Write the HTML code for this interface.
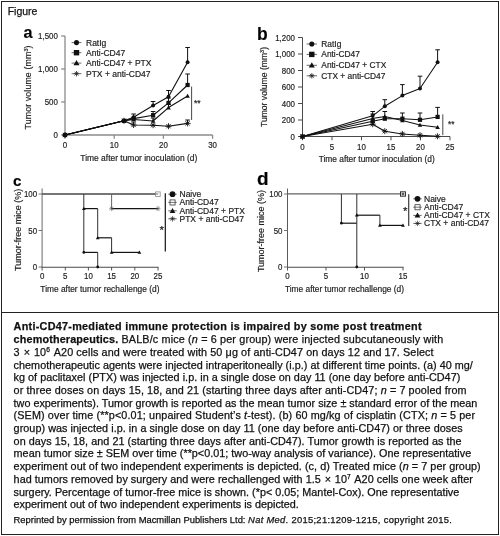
<!DOCTYPE html>
<html><head><meta charset="utf-8"><title>Figure</title>
<style>
html,body{margin:0;padding:0;background:#fff}
body{width:500px;height:536px;position:relative;overflow:hidden;font-family:"Liberation Sans",sans-serif;color:#111}
#frame{position:absolute;left:1px;top:1px;width:498px;height:534px;border:1px solid #222;box-sizing:border-box}
#sep{position:absolute;left:1px;top:312px;width:498px;height:1px;background:#222}
#ttl{position:absolute;left:7.7px;top:5.4px;font-size:10.5px;-webkit-text-stroke:0.25px #111;line-height:13px;color:#111}
svg{position:absolute;left:0;top:0}
svg text{font-family:"Liberation Sans",sans-serif;stroke:#222;stroke-width:0.18px}
.ln{-webkit-text-stroke:0.25px #111;position:absolute;left:13.6px;white-space:nowrap;line-height:1;color:#111}
.ln .x{margin:0 0.8px}
.ln sup{margin-right:1.2px;font-size:0.62em;vertical-align:baseline;position:relative;top:-0.5em;line-height:0}
</style></head><body>
<div id="frame"></div><div id="sep"></div>
<div id="ttl">Figure</div>
<svg width="500" height="312" viewBox="0 0 500 312">
<path d="M65.0 36.0V135.0H212.6" stroke="#8c8c8c" stroke-width="1.3" fill="none"/>
<path d="M61.2 135.0H65.0" stroke="#8c8c8c" stroke-width="1.3"/>
<text transform="translate(57.9 138.1) scale(0.92 1)" font-size="8.6" text-anchor="end" fill="#222">0</text>
<path d="M61.2 102.0H65.0" stroke="#8c8c8c" stroke-width="1.3"/>
<text transform="translate(57.9 105.1) scale(0.92 1)" font-size="8.6" text-anchor="end" fill="#222">500</text>
<path d="M61.2 69.0H65.0" stroke="#8c8c8c" stroke-width="1.3"/>
<text transform="translate(57.9 72.1) scale(0.92 1)" font-size="8.6" text-anchor="end" fill="#222">1,000</text>
<path d="M61.2 36.0H65.0" stroke="#8c8c8c" stroke-width="1.3"/>
<text transform="translate(57.9 39.1) scale(0.92 1)" font-size="8.6" text-anchor="end" fill="#222">1,500</text>
<path d="M65.0 135.0v3.8" stroke="#8c8c8c" stroke-width="1.3"/>
<text transform="translate(65.0 148.0) scale(0.92 1)" font-size="8.6" text-anchor="middle" fill="#222">0</text>
<path d="M114.2 135.0v3.8" stroke="#8c8c8c" stroke-width="1.3"/>
<text transform="translate(114.2 148.0) scale(0.92 1)" font-size="8.6" text-anchor="middle" fill="#222">10</text>
<path d="M163.4 135.0v3.8" stroke="#8c8c8c" stroke-width="1.3"/>
<text transform="translate(163.4 148.0) scale(0.92 1)" font-size="8.6" text-anchor="middle" fill="#222">20</text>
<path d="M212.6 135.0v3.8" stroke="#8c8c8c" stroke-width="1.3"/>
<text transform="translate(212.6 148.0) scale(0.92 1)" font-size="8.6" text-anchor="middle" fill="#222">30</text>
<text x="138.8" y="160.5" font-size="8.45" text-anchor="middle" font-weight="normal" fill="#222" >Time after tumor inoculation (d)</text>
<text transform="translate(31.4 87.4) rotate(-90)" font-size="8.8" letter-spacing="0.12" text-anchor="middle" fill="#222">Tumor volume (mm<tspan font-size="5.5" dy="-3">3</tspan><tspan dy="3">)</tspan></text>
<path d="M133.6 117.3V114.0M131.3 114.0H135.9" stroke="#111" stroke-width="1.0" fill="none"/>
<path d="M153.1 105.4V101.5M150.8 101.5H155.4" stroke="#111" stroke-width="1.0" fill="none"/>
<path d="M168.5 96.7V90.5M166.2 90.5H170.8" stroke="#111" stroke-width="1.0" fill="none"/>
<path d="M187.6 62.2V47.5M185.3 47.5H189.9" stroke="#111" stroke-width="1.0" fill="none"/>
<path d="M153.1 115.2V111.5M150.8 111.5H155.4" stroke="#111" stroke-width="1.0" fill="none"/>
<path d="M168.5 102.9V98.0M166.2 98.0H170.8" stroke="#111" stroke-width="1.0" fill="none"/>
<path d="M187.6 85.0V74.0M185.3 74.0H189.9" stroke="#111" stroke-width="1.0" fill="none"/>
<path d="M133.6 125.0V122.0M131.3 122.0H135.9" stroke="#111" stroke-width="1.0" fill="none"/>
<path d="M153.1 121.0V118.0M150.8 118.0H155.4" stroke="#111" stroke-width="1.0" fill="none"/>
<path d="M168.5 107.6V104.5M166.2 104.5H170.8" stroke="#111" stroke-width="1.0" fill="none"/>
<path d="M187.6 123.4V120.0M185.3 120.0H189.9" stroke="#111" stroke-width="1.0" fill="none"/>
<path d="M65.0 135.0L124.0 120.8L133.6 117.3L153.1 105.4L168.5 96.7L187.6 62.2" fill="none" stroke="#111" stroke-width="1.12" stroke-linejoin="round"/>
<circle cx="65.0" cy="135.0" r="1.99" fill="#111"/>
<circle cx="124.0" cy="120.8" r="1.99" fill="#111"/>
<circle cx="133.6" cy="117.3" r="1.99" fill="#111"/>
<circle cx="153.1" cy="105.4" r="1.99" fill="#111"/>
<circle cx="168.5" cy="96.7" r="1.99" fill="#111"/>
<circle cx="187.6" cy="62.2" r="1.99" fill="#111"/>
<path d="M65.0 135.0L124.0 120.8L133.6 118.6L153.1 115.2L168.5 102.9L187.6 85.0" fill="none" stroke="#111" stroke-width="1.12" stroke-linejoin="round"/>
<rect x="62.9" y="132.9" width="4.2" height="4.2" fill="#111"/>
<rect x="121.9" y="118.7" width="4.2" height="4.2" fill="#111"/>
<rect x="131.5" y="116.5" width="4.2" height="4.2" fill="#111"/>
<rect x="151.0" y="113.1" width="4.2" height="4.2" fill="#111"/>
<rect x="166.4" y="100.8" width="4.2" height="4.2" fill="#111"/>
<rect x="185.5" y="82.9" width="4.2" height="4.2" fill="#111"/>
<path d="M65.0 135.0L124.0 120.8L133.6 119.5L153.1 121.0L168.5 107.6L187.6 96.0" fill="none" stroke="#111" stroke-width="1.12" stroke-linejoin="round"/>
<path d="M65.0 132.7L67.3 136.8H62.7Z" fill="#111"/>
<path d="M124.0 118.5L126.3 122.6H121.7Z" fill="#111"/>
<path d="M133.6 117.2L135.9 121.3H131.3Z" fill="#111"/>
<path d="M153.1 118.7L155.4 122.8H150.8Z" fill="#111"/>
<path d="M168.5 105.3L170.8 109.4H166.2Z" fill="#111"/>
<path d="M187.6 93.7L189.9 97.8H185.3Z" fill="#111"/>
<path d="M65.0 135.0L124.0 120.8L133.6 125.0L153.1 125.2L168.5 126.2L187.6 123.4" fill="none" stroke="#111" stroke-width="1.12" stroke-linejoin="round"/>
<path d="M62.0 135.0H68.0M65.0 132.0V138.0M62.9 132.9L67.1 137.1M62.9 137.1L67.1 132.9" stroke="#111" stroke-width="0.9" fill="none"/>
<path d="M121.0 120.8H127.0M124.0 117.8V123.8M121.9 118.7L126.1 122.9M121.9 122.9L126.1 118.7" stroke="#111" stroke-width="0.9" fill="none"/>
<path d="M130.6 125.0H136.6M133.6 122.0V128.0M131.5 122.9L135.7 127.1M131.5 127.1L135.7 122.9" stroke="#111" stroke-width="0.9" fill="none"/>
<path d="M150.1 125.2H156.1M153.1 122.2V128.2M151.0 123.1L155.2 127.3M151.0 127.3L155.2 123.1" stroke="#111" stroke-width="0.9" fill="none"/>
<path d="M165.5 126.2H171.5M168.5 123.2V129.2M166.4 124.1L170.6 128.3M166.4 128.3L170.6 124.1" stroke="#111" stroke-width="0.9" fill="none"/>
<path d="M184.6 123.4H190.6M187.6 120.4V126.4M185.5 121.3L189.7 125.5M185.5 125.5L189.7 121.3" stroke="#111" stroke-width="0.9" fill="none"/>
<path d="M191.6 86.5V120" stroke="#333" stroke-width="0.9"/>
<text x="194.0" y="105.5" font-size="8.6" text-anchor="start" font-weight="normal" fill="#222" >**</text>
<path d="M71.6 42.6H81.4" stroke="#444" stroke-width="0.8"/>
<circle cx="76.5" cy="42.6" r="2.55" fill="#111"/>
<text x="86.0" y="45.6" font-size="8.5" text-anchor="start" font-weight="normal" fill="#222" >RatIg</text>
<path d="M71.6 52.7H81.4" stroke="#444" stroke-width="0.8"/>
<rect x="73.8" y="50.0" width="5.4" height="5.4" fill="#111"/>
<text x="86.0" y="55.7" font-size="8.5" text-anchor="start" font-weight="normal" fill="#222" >Anti-CD47</text>
<path d="M71.6 63.1H81.4" stroke="#444" stroke-width="0.8"/>
<path d="M76.5 60.1L79.5 65.3H73.5Z" fill="#111"/>
<text x="86.0" y="66.1" font-size="8.5" text-anchor="start" font-weight="normal" fill="#222" >Anti-CD47 + PTX</text>
<path d="M71.6 73.7H81.4" stroke="#444" stroke-width="0.8"/>
<path d="M73.8 73.7H79.2M76.5 71.0V76.4M74.6 71.8L78.4 75.6M74.6 75.6L78.4 71.8" stroke="#222" stroke-width="0.8" fill="none"/>
<text x="86.0" y="76.7" font-size="8.5" text-anchor="start" font-weight="normal" fill="#222" >PTX + anti-CD47</text>
<text x="23.5" y="38.3" font-size="16.2" text-anchor="start" font-weight="bold" fill="#000" >a</text>
<path d="M302.5 37.5V136.5H450.0" stroke="#4a4a4a" stroke-width="1" fill="none"/>
<path d="M298.0 136.5H302.5" stroke="#4a4a4a" stroke-width="1"/>
<text transform="translate(295.0 139.8) scale(0.92 1)" font-size="8.6" text-anchor="end" fill="#222">0</text>
<path d="M298.0 120.0H302.5" stroke="#4a4a4a" stroke-width="1"/>
<text transform="translate(295.0 123.3) scale(0.92 1)" font-size="8.6" text-anchor="end" fill="#222">200</text>
<path d="M298.0 103.5H302.5" stroke="#4a4a4a" stroke-width="1"/>
<text transform="translate(295.0 106.8) scale(0.92 1)" font-size="8.6" text-anchor="end" fill="#222">400</text>
<path d="M298.0 87.0H302.5" stroke="#4a4a4a" stroke-width="1"/>
<text transform="translate(295.0 90.3) scale(0.92 1)" font-size="8.6" text-anchor="end" fill="#222">600</text>
<path d="M298.0 70.5H302.5" stroke="#4a4a4a" stroke-width="1"/>
<text transform="translate(295.0 73.8) scale(0.92 1)" font-size="8.6" text-anchor="end" fill="#222">800</text>
<path d="M298.0 54.0H302.5" stroke="#4a4a4a" stroke-width="1"/>
<text transform="translate(295.0 57.3) scale(0.92 1)" font-size="8.6" text-anchor="end" fill="#222">1,000</text>
<path d="M298.0 37.5H302.5" stroke="#4a4a4a" stroke-width="1"/>
<text transform="translate(295.0 40.8) scale(0.92 1)" font-size="8.6" text-anchor="end" fill="#222">1,200</text>
<path d="M302.5 136.5v3.8" stroke="#4a4a4a" stroke-width="1"/>
<text transform="translate(302.5 150.3) scale(0.92 1)" font-size="8.6" text-anchor="middle" fill="#222">0</text>
<path d="M332.0 136.5v3.8" stroke="#4a4a4a" stroke-width="1"/>
<text transform="translate(332.0 150.3) scale(0.92 1)" font-size="8.6" text-anchor="middle" fill="#222">5</text>
<path d="M361.5 136.5v3.8" stroke="#4a4a4a" stroke-width="1"/>
<text transform="translate(361.5 150.3) scale(0.92 1)" font-size="8.6" text-anchor="middle" fill="#222">10</text>
<path d="M391.0 136.5v3.8" stroke="#4a4a4a" stroke-width="1"/>
<text transform="translate(391.0 150.3) scale(0.92 1)" font-size="8.6" text-anchor="middle" fill="#222">15</text>
<path d="M420.5 136.5v3.8" stroke="#4a4a4a" stroke-width="1"/>
<text transform="translate(420.5 150.3) scale(0.92 1)" font-size="8.6" text-anchor="middle" fill="#222">20</text>
<path d="M450.0 136.5v3.8" stroke="#4a4a4a" stroke-width="1"/>
<text transform="translate(450.0 150.3) scale(0.92 1)" font-size="8.6" text-anchor="middle" fill="#222">25</text>
<text x="376.7" y="161.6" font-size="8.4" text-anchor="middle" font-weight="normal" fill="#222" >Time after tumor inoculation (d)</text>
<text transform="translate(267 87) rotate(-90)" font-size="8.6" text-anchor="middle" fill="#222">Tumor volume (mm<tspan font-size="5.5" dy="-3">3</tspan><tspan dy="3">)</tspan></text>
<path d="M372.7 115.8V111.5M370.4 111.5H375.0" stroke="#111" stroke-width="1.0" fill="none"/>
<path d="M384.8 106.3V99.7M382.5 99.7H387.1" stroke="#111" stroke-width="1.0" fill="none"/>
<path d="M402.4 95.6V84.6M400.1 84.6H404.7" stroke="#111" stroke-width="1.0" fill="none"/>
<path d="M420.0 88.5V76.2M417.7 76.2H422.3" stroke="#111" stroke-width="1.0" fill="none"/>
<path d="M437.6 62.3V49.8M435.3 49.8H439.9" stroke="#111" stroke-width="1.0" fill="none"/>
<path d="M384.8 116.5V111.5M382.5 111.5H387.1" stroke="#111" stroke-width="1.0" fill="none"/>
<path d="M402.4 118.7V113.0M400.1 113.0H404.7" stroke="#111" stroke-width="1.0" fill="none"/>
<path d="M420.0 119.8V113.0M417.7 113.0H422.3" stroke="#111" stroke-width="1.0" fill="none"/>
<path d="M437.6 116.9V107.4M435.3 107.4H439.9" stroke="#111" stroke-width="1.0" fill="none"/>
<path d="M372.7 118.4V114.0M370.4 114.0H375.0" stroke="#111" stroke-width="1.0" fill="none"/>
<path d="M302.5 136.5L372.7 115.8L384.8 106.3L402.4 95.6L420.0 88.5L437.6 62.3" fill="none" stroke="#111" stroke-width="1.05" stroke-linejoin="round"/>
<circle cx="302.5" cy="136.5" r="1.99" fill="#111"/>
<circle cx="372.7" cy="115.8" r="1.99" fill="#111"/>
<circle cx="384.8" cy="106.3" r="1.99" fill="#111"/>
<circle cx="402.4" cy="95.6" r="1.99" fill="#111"/>
<circle cx="420.0" cy="88.5" r="1.99" fill="#111"/>
<circle cx="437.6" cy="62.3" r="1.99" fill="#111"/>
<path d="M302.5 136.5L372.7 121.2L384.8 118.7L402.4 118.7L420.0 119.8L437.6 116.9" fill="none" stroke="#111" stroke-width="1.05" stroke-linejoin="round"/>
<rect x="300.4" y="134.4" width="4.2" height="4.2" fill="#111"/>
<rect x="370.6" y="119.1" width="4.2" height="4.2" fill="#111"/>
<rect x="382.7" y="116.6" width="4.2" height="4.2" fill="#111"/>
<rect x="400.3" y="116.6" width="4.2" height="4.2" fill="#111"/>
<rect x="417.9" y="117.7" width="4.2" height="4.2" fill="#111"/>
<rect x="435.5" y="114.8" width="4.2" height="4.2" fill="#111"/>
<path d="M302.5 136.5L372.7 118.4L384.8 116.5L402.4 120.4L420.0 125.0L437.6 127.2" fill="none" stroke="#111" stroke-width="1.05" stroke-linejoin="round"/>
<path d="M302.5 134.2L304.8 138.3H300.2Z" fill="#111"/>
<path d="M372.7 116.1L375.0 120.2H370.4Z" fill="#111"/>
<path d="M384.8 114.2L387.1 118.3H382.5Z" fill="#111"/>
<path d="M402.4 118.1L404.7 122.2H400.1Z" fill="#111"/>
<path d="M420.0 122.7L422.3 126.8H417.7Z" fill="#111"/>
<path d="M437.6 124.9L439.9 129.0H435.3Z" fill="#111"/>
<path d="M302.5 136.5L372.7 124.2L384.8 131.2L402.4 133.9L420.0 135.2L437.6 136.3" fill="none" stroke="#111" stroke-width="1.05" stroke-linejoin="round"/>
<path d="M299.5 136.5H305.5M302.5 133.5V139.5M300.4 134.4L304.6 138.6M300.4 138.6L304.6 134.4" stroke="#111" stroke-width="0.9" fill="none"/>
<path d="M369.7 124.2H375.7M372.7 121.2V127.2M370.6 122.1L374.8 126.3M370.6 126.3L374.8 122.1" stroke="#111" stroke-width="0.9" fill="none"/>
<path d="M381.8 131.2H387.8M384.8 128.2V134.2M382.7 129.1L386.9 133.3M382.7 133.3L386.9 129.1" stroke="#111" stroke-width="0.9" fill="none"/>
<path d="M399.4 133.9H405.4M402.4 130.9V136.9M400.3 131.8L404.5 136.0M400.3 136.0L404.5 131.8" stroke="#111" stroke-width="0.9" fill="none"/>
<path d="M417.0 135.2H423.0M420.0 132.2V138.2M417.9 133.1L422.1 137.3M417.9 137.3L422.1 133.1" stroke="#111" stroke-width="0.9" fill="none"/>
<path d="M434.6 136.3H440.6M437.6 133.3V139.3M435.5 134.2L439.7 138.4M435.5 138.4L439.7 134.2" stroke="#111" stroke-width="0.9" fill="none"/>
<path d="M442.8 114.3V135.2" stroke="#333" stroke-width="0.9"/>
<text x="448.0" y="127.3" font-size="8.3" text-anchor="start" font-weight="normal" fill="#222" >**</text>
<path d="M306.6 44H317.0" stroke="#444" stroke-width="0.8"/>
<circle cx="311.8" cy="44.0" r="2.55" fill="#111"/>
<text x="321.3" y="47.0" font-size="8.4" text-anchor="start" font-weight="normal" fill="#222" >RatIg</text>
<path d="M306.6 54.4H317.0" stroke="#444" stroke-width="0.8"/>
<rect x="309.1" y="51.7" width="5.4" height="5.4" fill="#111"/>
<text x="321.3" y="57.4" font-size="8.4" text-anchor="start" font-weight="normal" fill="#222" >Anti-CD47</text>
<path d="M306.6 65.3H317.0" stroke="#444" stroke-width="0.8"/>
<path d="M311.8 62.3L314.8 67.5H308.8Z" fill="#111"/>
<text x="321.3" y="68.3" font-size="8.4" text-anchor="start" font-weight="normal" fill="#222" >Anti-CD47 + CTX</text>
<path d="M306.6 75.8H317.0" stroke="#444" stroke-width="0.8"/>
<path d="M309.1 75.8H314.5M311.8 73.1V78.5M309.9 73.9L313.7 77.7M309.9 77.7L313.7 73.9" stroke="#222" stroke-width="0.8" fill="none"/>
<text x="321.3" y="78.8" font-size="8.4" text-anchor="start" font-weight="normal" fill="#222" >CTX + anti-CD47</text>
<text x="257.0" y="39.6" font-size="17.5" text-anchor="start" font-weight="bold" fill="#000" >b</text>
<path d="M42.1 188.6V267.0" stroke="#7d7d7d" stroke-width="1.15" fill="none"/>
<path d="M41.6 267.25H158.5" stroke="#4a4a4a" stroke-width="1.1" fill="none"/>
<path d="M38.6 267.0H42.1" stroke="#737373" stroke-width="1"/>
<text transform="translate(37.1 270.1) scale(0.92 1)" font-size="8.6" text-anchor="end" fill="#222">0</text>
<path d="M38.6 230.5H42.1" stroke="#737373" stroke-width="1"/>
<text transform="translate(37.1 233.6) scale(0.92 1)" font-size="8.6" text-anchor="end" fill="#222">50</text>
<path d="M38.6 194.0H42.1" stroke="#737373" stroke-width="1"/>
<text transform="translate(37.1 197.1) scale(0.92 1)" font-size="8.6" text-anchor="end" fill="#222">100</text>
<path d="M42.1 267.0v3.5" stroke="#555" stroke-width="1"/>
<text transform="translate(42.1 279.0) scale(0.92 1)" font-size="8.6" text-anchor="middle" fill="#222">0</text>
<path d="M65.3 267.0v3.5" stroke="#555" stroke-width="1"/>
<text transform="translate(65.3 279.0) scale(0.92 1)" font-size="8.6" text-anchor="middle" fill="#222">5</text>
<path d="M88.4 267.0v3.5" stroke="#555" stroke-width="1"/>
<text transform="translate(88.4 279.0) scale(0.92 1)" font-size="8.6" text-anchor="middle" fill="#222">10</text>
<path d="M111.6 267.0v3.5" stroke="#555" stroke-width="1"/>
<text transform="translate(111.6 279.0) scale(0.92 1)" font-size="8.6" text-anchor="middle" fill="#222">15</text>
<path d="M134.8 267.0v3.5" stroke="#555" stroke-width="1"/>
<text transform="translate(134.8 279.0) scale(0.92 1)" font-size="8.6" text-anchor="middle" fill="#222">20</text>
<path d="M158.0 267.0v3.5" stroke="#555" stroke-width="1"/>
<text transform="translate(158.0 279.0) scale(0.92 1)" font-size="8.6" text-anchor="middle" fill="#222">25</text>
<text x="99.9" y="292.0" font-size="8.37" text-anchor="middle" font-weight="normal" fill="#222" >Time after tumor rechallenge (d)</text>
<text transform="translate(21.2 229.8) rotate(-90)" font-size="9.0" text-anchor="middle" fill="#222">Tumor-free mice (%)</text>
<path d="M42.1 194.0L158.0 194.0" fill="none" stroke="#484848" stroke-width="1.3" stroke-linejoin="round"/>
<path d="M83.8 194.0V252.4" stroke="#303030" stroke-width="1.0" fill="none"/><path d="M83.4 252.4H97.7" stroke="#141414" stroke-width="1.2" fill="none"/><path d="M97.7 252.4V267.0" stroke="#303030" stroke-width="1.0" fill="none"/>
<path d="M83.4 208.6H97.7" stroke="#141414" stroke-width="1.2" fill="none"/><path d="M97.7 208.6V237.8" stroke="#303030" stroke-width="1.0" fill="none"/><path d="M97.3 237.8H111.6" stroke="#141414" stroke-width="1.2" fill="none"/><path d="M111.6 237.8V252.4" stroke="#303030" stroke-width="1.0" fill="none"/><path d="M111.2 252.4H139.4" stroke="#141414" stroke-width="1.2" fill="none"/>
<path d="M111.6 194.0L111.6 208.6" fill="none" stroke="#666" stroke-width="1.0" stroke-linejoin="round"/>
<path d="M111.2 208.6H158.0" stroke="#141414" stroke-width="1.2" fill="none"/>
<circle cx="83.8" cy="252.4" r="1.40" fill="#111"/>
<circle cx="97.7" cy="267.0" r="1.40" fill="#111"/>
<path d="M83.8 206.7L85.7 210.0H82.0Z" fill="#111"/>
<path d="M97.7 235.9L99.6 239.2H95.9Z" fill="#111"/>
<path d="M111.6 250.5L113.5 253.8H109.8Z" fill="#111"/>
<path d="M139.4 250.5L141.3 253.8H137.6Z" fill="#111"/>
<path d="M109.1 208.6H114.2M111.6 206.0V211.2M109.8 206.8L113.4 210.4M109.8 210.4L113.4 206.8" stroke="#555" stroke-width="0.55" fill="none"/>
<path d="M155.4 208.6H160.5M158.0 206.0V211.2M156.2 206.8L159.8 210.4M156.2 210.4L159.8 206.8" stroke="#555" stroke-width="0.55" fill="none"/>
<rect x="155.6" y="191.9" width="4.6" height="4.6" fill="#fff" stroke="#8a8a8a" stroke-width="0.8"/><path d="M155.6 194H158.2" stroke="#666" stroke-width="1"/>
<path d="M165.3 193.2V251.5" stroke="#111" stroke-width="1.2"/>
<text x="159.6" y="234.4" font-size="11.5" text-anchor="start" font-weight="normal" fill="#111" >*</text>
<path d="M168.3 194.2H176.7" stroke="#444" stroke-width="0.8"/>
<circle cx="172.5" cy="194.2" r="2.86" fill="#111"/>
<text x="179.5" y="197.2" font-size="8.5" text-anchor="start" font-weight="normal" fill="#222" >Naive</text>
<path d="M168.3 202.4H176.7" stroke="#444" stroke-width="0.8"/>
<rect x="170.0" y="199.9" width="5.1" height="5.1" fill="#fff" stroke="#3a3a3a" stroke-width="0.8"/><path d="M170.0 202.4H175.0" stroke="#3a3a3a" stroke-width="0.68"/>
<text x="179.5" y="205.4" font-size="8.5" text-anchor="start" font-weight="normal" fill="#222" >Anti-CD47</text>
<path d="M168.3 210.8H176.7" stroke="#444" stroke-width="0.8"/>
<path d="M172.5 208.0L175.3 212.9H169.7Z" fill="#111"/>
<text x="179.5" y="213.8" font-size="8.5" text-anchor="start" font-weight="normal" fill="#222" >Anti-CD47 + PTX</text>
<path d="M168.3 218.8H176.7" stroke="#444" stroke-width="0.8"/>
<path d="M169.8 218.8H175.2M172.5 216.1V221.5M170.6 216.9L174.4 220.7M170.6 220.7L174.4 216.9" stroke="#111" stroke-width="0.6" fill="none"/>
<text x="179.5" y="221.8" font-size="8.5" text-anchor="start" font-weight="normal" fill="#222" >PTX + anti-CD47</text>
<text x="13.0" y="185.8" font-size="15.2" text-anchor="start" font-weight="bold" fill="#000" >c</text>
<path d="M287.5 188.6V267.0" stroke="#5a5a5a" stroke-width="1.0" fill="none"/>
<path d="M287.0 267.3H403.5" stroke="#4a4a4a" stroke-width="1.1" fill="none"/>
<path d="M284.0 267.0H287.5" stroke="#737373" stroke-width="1"/>
<text transform="translate(282.5 270.1) scale(0.92 1)" font-size="8.6" text-anchor="end" fill="#222">0</text>
<path d="M284.0 230.5H287.5" stroke="#737373" stroke-width="1"/>
<text transform="translate(282.5 233.6) scale(0.92 1)" font-size="8.6" text-anchor="end" fill="#222">50</text>
<path d="M284.0 194.0H287.5" stroke="#737373" stroke-width="1"/>
<text transform="translate(282.5 197.1) scale(0.92 1)" font-size="8.6" text-anchor="end" fill="#222">100</text>
<path d="M287.5 267.0v3.5" stroke="#555" stroke-width="1"/>
<text transform="translate(287.5 279.0) scale(0.92 1)" font-size="8.6" text-anchor="middle" fill="#222">0</text>
<path d="M326.0 267.0v3.5" stroke="#555" stroke-width="1"/>
<text transform="translate(326.0 279.0) scale(0.92 1)" font-size="8.6" text-anchor="middle" fill="#222">5</text>
<path d="M364.5 267.0v3.5" stroke="#555" stroke-width="1"/>
<text transform="translate(364.5 279.0) scale(0.92 1)" font-size="8.6" text-anchor="middle" fill="#222">10</text>
<path d="M403.0 267.0v3.5" stroke="#555" stroke-width="1"/>
<text transform="translate(403.0 279.0) scale(0.92 1)" font-size="8.6" text-anchor="middle" fill="#222">15</text>
<text x="344.5" y="292.0" font-size="8.37" text-anchor="middle" font-weight="normal" fill="#222" >Time after tumor rechallenge (d)</text>
<text transform="translate(263.6 231.0) rotate(-90)" font-size="9.0" text-anchor="middle" fill="#222">Tumor-free mice (%)</text>
<path d="M287.5 193.8L403.0 193.8" fill="none" stroke="#636363" stroke-width="1.25" stroke-linejoin="round"/>
<path d="M341.4 194.0V223.2" stroke="#303030" stroke-width="1.0" fill="none"/><path d="M341.0 223.2H356.8" stroke="#141414" stroke-width="1.2" fill="none"/>
<path d="M356.8 194.0V267.0" stroke="#303030" stroke-width="1.0" fill="none"/>
<path d="M356.4 215.2H379.9" stroke="#141414" stroke-width="1.2" fill="none"/><path d="M379.9 215.2V225.4" stroke="#303030" stroke-width="1.0" fill="none"/><path d="M379.5 225.4H403.0" stroke="#141414" stroke-width="1.2" fill="none"/>
<circle cx="341.4" cy="223.2" r="1.40" fill="#111"/>
<circle cx="356.8" cy="267.0" r="1.40" fill="#111"/>
<path d="M356.8 213.3L358.7 216.6H354.9Z" fill="#111"/>
<path d="M379.9 223.5L381.8 226.8H378.0Z" fill="#111"/>
<path d="M403.0 223.5L404.9 226.8H401.1Z" fill="#111"/>
<rect x="400.5" y="191.8" width="5.0" height="4.4" fill="#fff" stroke="#222" stroke-width="0.9"/>
<path d="M401.2 194.0H404.8M403.0 192.2V195.8M401.8 192.8L404.2 195.2M401.8 195.2L404.2 192.8" stroke="#333" stroke-width="0.6" fill="none"/>
<path d="M408.7 194.2V226" stroke="#3a3a3a" stroke-width="1.2"/>
<text x="403.0" y="215.4" font-size="11.5" text-anchor="start" font-weight="normal" fill="#111" >*</text>
<path d="M413.3 198.8H421.7" stroke="#444" stroke-width="0.8"/>
<circle cx="417.5" cy="198.8" r="2.86" fill="#111"/>
<text x="424.0" y="201.8" font-size="8.5" text-anchor="start" font-weight="normal" fill="#222" >Naive</text>
<path d="M413.3 207.2H421.7" stroke="#444" stroke-width="0.8"/>
<rect x="415.0" y="204.7" width="5.1" height="5.1" fill="#fff" stroke="#3a3a3a" stroke-width="0.8"/><path d="M415.0 207.2H420.0" stroke="#3a3a3a" stroke-width="0.68"/>
<text x="424.0" y="210.2" font-size="8.5" text-anchor="start" font-weight="normal" fill="#222" >Anti-CD47</text>
<path d="M413.3 215.4H421.7" stroke="#444" stroke-width="0.8"/>
<path d="M417.5 212.6L420.4 217.5H414.6Z" fill="#111"/>
<text x="424.0" y="218.4" font-size="8.5" text-anchor="start" font-weight="normal" fill="#222" >Anti-CD47 + CTX</text>
<path d="M413.3 223.4H421.7" stroke="#444" stroke-width="0.8"/>
<path d="M414.8 223.4H420.2M417.5 220.7V226.1M415.6 221.5L419.4 225.3M415.6 225.3L419.4 221.5" stroke="#111" stroke-width="0.6" fill="none"/>
<text x="424.0" y="226.4" font-size="8.5" text-anchor="start" font-weight="normal" fill="#222" >CTX + anti-CD47</text>
<text x="257.0" y="185.4" font-size="19" text-anchor="start" font-weight="bold" fill="#000" >d</text>
</svg>
<div class="ln" id="l0" style="top:321.23px;font-size:10.8px;letter-spacing:0.2822px"><b>Anti-CD47-mediated immune protection is impaired by some post treatment</b></div>
<div class="ln" id="l1" style="top:334.13px;font-size:10.8px;letter-spacing:0.1502px"><b>chemotherapeutics.</b> BALB/c mice (<i>n</i> = 6 per group) were injected subcutaneously with</div>
<div class="ln" id="l2" style="top:346.83px;font-size:10.8px;letter-spacing:0.1085px">3 <span class="x">×</span> 10<sup>6</sup> A20 cells and were treated with 50 μg of anti-CD47 on days 12 and 17. Select</div>
<div class="ln" id="l3" style="top:359.53px;font-size:10.8px;letter-spacing:0.0343px">chemotherapeutic agents were injected intraperitoneally (i.p.) at different time points. (a) 40 mg/</div>
<div class="ln" id="l4" style="top:372.23px;font-size:10.8px;letter-spacing:0.0296px">kg of paclitaxel (PTX) was injected i.p. in a single dose on day 11 (one day before anti-CD47)</div>
<div class="ln" id="l5" style="top:384.93px;font-size:10.8px;letter-spacing:0.0995px">or three doses on days 15, 18, and 21 (starting three days after anti-CD47; <i>n</i> = 7 pooled from</div>
<div class="ln" id="l6" style="top:397.63px;font-size:10.8px;letter-spacing:0.0054px">two experiments). Tumor growth is reported as the mean tumor size ± standard error of the mean</div>
<div class="ln" id="l7" style="top:410.33px;font-size:10.8px;letter-spacing:0.1156px">(SEM) over time (**p&lt;0.01; unpaired Student’s <i>t</i>-test). (b) 60 mg/kg of cisplatin (CTX; <i>n</i> = 5 per</div>
<div class="ln" id="l8" style="top:423.03px;font-size:10.8px;letter-spacing:0.0491px">group) was injected i.p. in a single dose on day 11 (one day before anti-CD47) or three doses</div>
<div class="ln" id="l9" style="top:435.73px;font-size:10.8px;letter-spacing:0.0483px">on days 15, 18, and 21 (starting three days after anti-CD47). Tumor growth is reported as the</div>
<div class="ln" id="l10" style="top:448.43px;font-size:10.8px;letter-spacing:0.0208px">mean tumor size ± SEM over time (**p&lt;0.01; two-way analysis of variance). One representative</div>
<div class="ln" id="l11" style="top:461.13px;font-size:10.8px;letter-spacing:0.0549px">experiment out of two independent experiments is depicted. (c, d) Treated mice (<i>n</i> = 7 per group)</div>
<div class="ln" id="l12" style="top:473.83px;font-size:10.8px;letter-spacing:0.0390px">had tumors removed by surgery and were rechallenged with 1.5 <span class="x">×</span> 10<sup>7</sup> A20 cells one week after</div>
<div class="ln" id="l13" style="top:486.53px;font-size:10.8px;letter-spacing:0.0102px">surgery. Percentage of tumor-free mice is shown. (*p&lt; 0.05; Mantel-Cox). One representative</div>
<div class="ln" id="l14" style="top:499.23px;font-size:10.8px;letter-spacing:0.0033px">experiment out of two independent experiments is depicted.</div>
<div class="ln" id="l15" style="top:515.49px;font-size:9.4px;letter-spacing:0.0000px"><span style="letter-spacing:0">Reprinted by permission from Macmillan Publishers Ltd: </span><span style="letter-spacing:0.30px"><i>Nat Med</i>. 2015;21:1209-1215, copyright 2015.</span></div>
</body></html>
